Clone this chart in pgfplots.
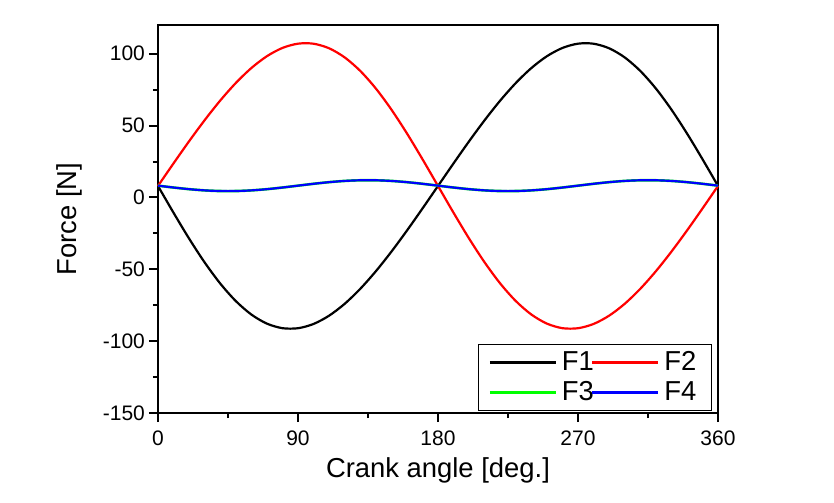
\documentclass[border=0pt]{standalone}
\usepackage{fontspec}
\setmainfont{Liberation Sans}
\usepackage{pgfplots}
\pgfplotsset{compat=1.18}
\begin{document}
\begin{tikzpicture}
\begin{axis}[
  scale only axis, width=280pt, height=194pt,
  xmin=0, xmax=360, ymin=-150, ymax=120,
  clip=false,
  axis line style={line width=1.1pt},
  xtick={0,90,180,270,360},
  ytick={-150,-100,-50,0,50,100},
  minor xtick={45,135,225,315},
  minor ytick={-125,-75,-25,25,75},
  tick align=outside,
  xtick pos=bottom, ytick pos=left,
  major tick length=4.5pt, minor tick length=2.5pt,
  every tick/.style={line width=1pt, black},
  /pgf/number format/assume math mode=true,
  ticklabel style={font=\fontsize{10.5}{12}\selectfont},
  yticklabel style={xshift=1.5pt},
  xticklabel style={yshift=-1pt},
  xlabel={Crank angle [deg.]}, ylabel={Force [N]},
  label style={font=\fontsize{13.7}{16}\selectfont},
  xlabel style={yshift=1pt},
  ylabel style={yshift=3.5pt},
  legend columns=2,
  legend style={at={(0.989,0.005)}, anchor=south east, draw=black, line width=0.5pt,
    font=\fontsize{13.7}{15.5}\selectfont, inner xsep=5pt, inner ysep=1.5pt,
    nodes={inner xsep=2.5pt},
    /tikz/every even column/.append style={column sep=-4pt}},
  legend image code/.code={\draw[#1, line width=1.2pt] (0pt,0pt) -- (33pt,0pt);},
]
\path (rel axis cs:-0.2821,-0.2294) rectangle (rel axis cs:1.2071,1.0644);
\addplot[black, line width=1.1pt, smooth] coordinates {
(0,8) (10,-10.66) (20,-28.62) (30,-45.22) (40,-59.87) (50,-72.07) (60,-81.46) (70,-87.79) (80,-90.97) (90,-91) (100,-88.03) (110,-82.27) (120,-74.02) (130,-63.61) (140,-51.41) (150,-37.78) (160,-23.10) (170,-7.72) (180,8)
(190,23.72) (200,39.10) (210,53.78) (220,67.41) (230,79.61) (240,90.02) (250,98.27) (260,104.03) (270,107) (280,106.97) (290,103.79) (300,97.46) (310,88.07) (320,75.87) (330,61.22) (340,44.62) (350,26.66) (360,8)};
\addlegendentry{F1}
\addplot[red, line width=1.1pt, smooth] coordinates {
(0,8) (10,23.72) (20,39.10) (30,53.78) (40,67.41) (50,79.61) (60,90.02) (70,98.27) (80,104.03) (90,107) (100,106.97) (110,103.79) (120,97.46) (130,88.07) (140,75.87) (150,61.22) (160,44.62) (170,26.66) (180,8)
(190,-10.66) (200,-28.62) (210,-45.22) (220,-59.87) (230,-72.07) (240,-81.46) (250,-87.79) (260,-90.97) (270,-91) (280,-88.03) (290,-82.27) (300,-74.02) (310,-63.61) (320,-51.41) (330,-37.78) (340,-23.10) (350,-7.72) (360,8)};
\addlegendentry{F2}
\addplot[green, line width=1.3pt, smooth] coordinates {
(0,8.2) (10,6.90) (20,5.76) (30,4.91) (40,4.46) (50,4.46) (60,4.91) (70,5.76) (80,6.90) (90,8.2) (100,9.50) (110,10.64) (120,11.49) (130,11.94) (140,11.94) (150,11.49) (160,10.64) (170,9.50) (180,8.2)
(190,6.90) (200,5.76) (210,4.91) (220,4.46) (230,4.46) (240,4.91) (250,5.76) (260,6.90) (270,8.2) (280,9.50) (290,10.64) (300,11.49) (310,11.94) (320,11.94) (330,11.49) (340,10.64) (350,9.50) (360,8.2)};
\addlegendentry{F3}
\addplot[blue, line width=1.1pt, smooth] coordinates {
(0,8.2) (10,6.90) (20,5.76) (30,4.91) (40,4.46) (50,4.46) (60,4.91) (70,5.76) (80,6.90) (90,8.2) (100,9.50) (110,10.64) (120,11.49) (130,11.94) (140,11.94) (150,11.49) (160,10.64) (170,9.50) (180,8.2)
(190,6.90) (200,5.76) (210,4.91) (220,4.46) (230,4.46) (240,4.91) (250,5.76) (260,6.90) (270,8.2) (280,9.50) (290,10.64) (300,11.49) (310,11.94) (320,11.94) (330,11.49) (340,10.64) (350,9.50) (360,8.2)};
\addlegendentry{F4}
\end{axis}
\end{tikzpicture}
\end{document}
